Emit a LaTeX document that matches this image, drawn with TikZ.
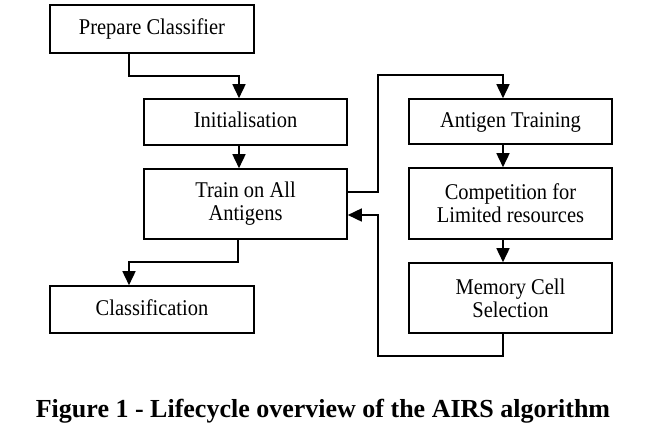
\documentclass[tikz,border=0pt]{standalone}
\usepackage{fontspec}
\setmainfont{Liberation Serif}
\newfontfamily\boxfont[FakeStretch=0.91]{Liberation Serif}
\usetikzlibrary{arrows.meta}
\begin{document}
\begin{tikzpicture}[x=1pt,y=-1pt,
  box/.style={draw,line width=1.6pt,inner sep=0pt,font=\boxfont\fontsize{22.5}{23}\selectfont},
  one/.style={text height=11.5pt,text depth=0pt},
  two/.style={align=center},
  conn/.style={line width=1.6pt},
  arr/.style={conn,-{Triangle[width=13pt,length=14pt]}}]
\useasboundingbox (0,0) rectangle (651,437);
\node[box,one,minimum width=204pt,minimum height=48pt] (prep) at (152,29) {Prepare Classifier};
\node[box,one,minimum width=203pt,minimum height=46pt] (init) at (245.5,122) {Initialisation};
\node[box,two,minimum width=203pt,minimum height=70pt] (train) at (245.5,204) {Train on All\\Antigens};
\node[box,one,minimum width=204pt,minimum height=47pt] (cls) at (152,309.5) {Classification};
\node[box,one,minimum width=203pt,minimum height=45pt] (ag) at (510.5,121.5) {Antigen Training};
\node[box,two,minimum width=203pt,minimum height=71pt] (comp) at (510.5,203.5) {Competition for\\Limited resources};
\node[box,two,minimum width=203pt,minimum height=70pt] (mem) at (510.5,298) {Memory Cell\\Selection};
\coordinate (a1) at (129,76);
\coordinate (a2) at (239,76);
\draw[arr] (prep.south -| a1) -- (a1) -- (a2) -- (a2 |- init.north);
\draw[arr] (init.south -| a2) -- (a2 |- train.north);
\coordinate (b1) at (238,262);
\coordinate (b2) at (129,262);
\draw[arr] (train.south -| b1) -- (b1) -- (b2) -- (b2 |- cls.north);
\coordinate (c1) at (378,192);
\coordinate (c2) at (378,75);
\coordinate (c3) at (503,75);
\draw[arr] (train.east |- c1) -- (c1) -- (c2) -- (c3) -- (c3 |- ag.north);
\draw[arr] (ag.south -| c3) -- (c3 |- comp.north);
\draw[arr] (comp.south -| c3) -- (c3 |- mem.north);
\coordinate (d1) at (503,356);
\coordinate (d2) at (378,356);
\coordinate (d3) at (378,215);
\draw[arr] (mem.south -| d1) -- (d1) -- (d2) -- (d3) -- (d3 -| train.east);
\node[font=\fontsize{26}{30}\bfseries\selectfont] (cap) at (323,411) {Figure 1 - Lifecycle overview of the AIRS algorithm};
\end{tikzpicture}
\end{document}
